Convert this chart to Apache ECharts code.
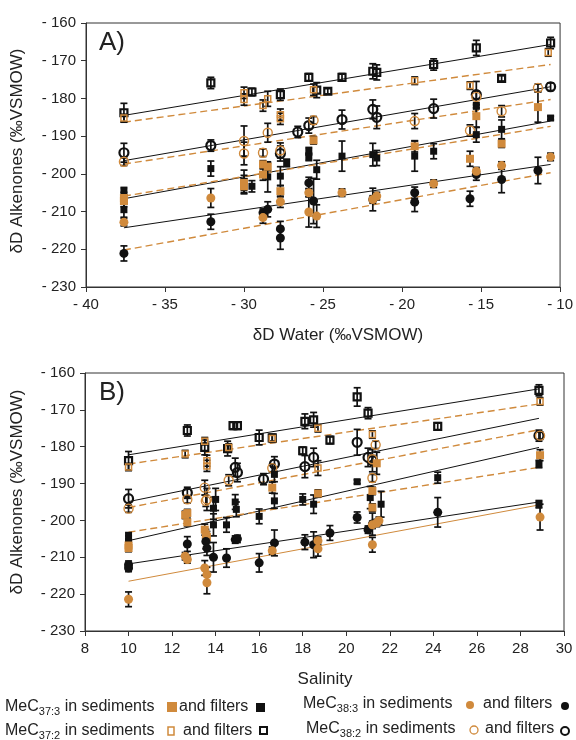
<!DOCTYPE html>
<html><head><meta charset="utf-8">
<script src="https://cdn.jsdelivr.net/npm/echarts@6/dist/echarts.min.js"></script>
<style>html,body{margin:0;padding:0;background:#fff}#c{width:576px;height:740px}</style>
</head><body><div id="c"></div>
<script>
const ORANGE = '#d08a3c';
const BLACK = '#111111';
const FONT = 'Liberation Sans, Arial, sans-serif';

// ---- Panel A : x = δD water (‰VSMOW), y = δD alkenones, e = error (±) ----
const A_X = {min: -40, max: -10, interval: 5};
const A_Y = {min: -230, max: -160, interval: 10};

const A_c37_2_filters = [[-37.6,-183.8,2.5],[-32.1,-175.9,1.5],[-29.5,-178.3,1],[-27.7,-179.0,1.5],[-25.9,-174.4,1],[-25.4,-177.8,2],[-24.7,-178.1,0.7],[-23.8,-174.4,1],[-21.85,-172.8,2],[-21.6,-173.1,2],[-18.0,-171.0,1.5],[-15.3,-166.6,2],[-13.7,-174.7,0.7],[-10.6,-165.3,1.5]];
const A_c37_2_sed = [[-37.6,-185.2,1],[-30.0,-178.5,1.5],[-30.0,-180.3,1.5],[-28.8,-181.9,1.5],[-28.5,-180.1,2],[-27.7,-184.3,1.5],[-27.7,-185.4,1.5],[-25.6,-177.7,1.5],[-19.2,-175.3,1],[-15.7,-176.6,1],[-10.75,-167.8,1]];
const A_c38_2_filters = [[-37.6,-194.4,2.5],[-32.1,-192.5,1.5],[-27.7,-194.6,2],[-26.6,-188.9,1.5],[-25.9,-187.2,2],[-23.8,-185.6,2.5],[-21.85,-182.9,2.5],[-21.6,-185.0,3],[-18.0,-182.7,2.5],[-15.3,-179.0,3.5],[-10.6,-176.9,1]];
const A_c38_2_sed = [[-37.6,-196.8,1],[-30.0,-191.3,4],[-30.0,-194.6,3],[-28.8,-194.4,1],[-28.5,-189.1,2.5],[-27.7,-193.8,2],[-25.6,-185.8,1],[-19.2,-186.0,2],[-15.7,-188.5,1.5],[-15.3,-179.6,1.5],[-13.7,-183.4,1.5],[-11.4,-177.2,1]];
const A_c37_3_filters = [[-37.6,-204.6,1],[-37.6,-209.5,2],[-32.1,-198.6,2],[-30.0,-202.0,3],[-29.5,-203.3,1.5],[-28.5,-200.8,4],[-27.7,-200.6,2.5],[-27.3,-197.1,1],[-25.9,-194.0,1],[-25.9,-195.5,1],[-25.4,-198.9,2.5],[-23.8,-195.3,4],[-21.85,-194.9,3],[-21.6,-195.8,2],[-19.2,-195.3,4],[-18.0,-194.0,2],[-15.3,-182.1,2],[-15.3,-189.6,2],[-13.7,-188.2,2.5],[-10.6,-185.2,0.5]];
const A_c37_3_sed = [[-37.6,-206.4,1.5],[-37.6,-207.2,1.5],[-30.0,-202.4,2],[-30.0,-203.3,2],[-28.8,-197.5,1],[-28.8,-200.2,1.5],[-28.5,-198.1,1],[-27.7,-204.6,1.5],[-25.6,-191.1,1],[-19.2,-192.7,1.5],[-15.7,-196.0,2],[-15.3,-184.7,3],[-13.7,-192.0,1],[-11.4,-182.3,4]];
const A_c38_3_filters = [[-37.6,-221.1,2],[-32.1,-212.7,2],[-28.8,-210.3,1],[-28.5,-209.4,2],[-27.7,-214.6,2],[-27.7,-217.0,3],[-25.9,-202.4,1.5],[-25.6,-207.2,6],[-21.85,-206.8,3],[-19.2,-205.0,1.5],[-19.2,-207.5,2.5],[-15.7,-206.6,2],[-15.3,-200.2,1.5],[-13.7,-201.5,3.5],[-11.4,-199.1,3.5]];
const A_c38_3_sed = [[-37.6,-212.8,1],[-32.1,-206.4,2.5],[-28.8,-211.6,1.5],[-27.7,-207.4,1.5],[-25.9,-205.0,1],[-25.9,-210.1,4],[-25.4,-211.2,3],[-23.8,-205.0,1],[-21.85,-206.8,1],[-21.6,-205.9,1],[-18.0,-202.6,1],[-15.3,-199.3,1],[-13.7,-197.8,1],[-10.6,-195.5,1]];

// regression lines [x1, y1, x2, y2]
const A_fit_c37_2_filters = [-37.6,-184.5,-10.6,-165.7];
const A_fit_c37_2_sed = [-37.6,-186.3,-10.6,-171.0];
const A_fit_c38_2_filters = [-37.6,-196.5,-10.6,-176.9];
const A_fit_c38_2_sed = [-37.6,-197.4,-10.6,-180.3];
const A_fit_c37_3_filters = [-37.6,-206.6,-10.6,-186.0];
const A_fit_c37_3_sed = [-37.6,-205.9,-10.6,-187.4];
const A_fit_c38_3_filters = [-37.6,-214.3,-10.6,-197.5];
const A_fit_c38_3_sed = [-37.6,-220.2,-10.6,-199.7];

// ---- Panel B : x = salinity ----
const B_X = {min: 8, max: 30, interval: 2};
const B_Y = {min: -230, max: -160, interval: 10};

const B_c37_2_filters = [[10.0,-183.8,2.5],[12.7,-175.6,1.5],[13.5,-180.2,2],[14.55,-180.5,2],[14.8,-174.3,1],[15.0,-174.3,1],[16.0,-177.5,2],[16.6,-177.6,1],[18.0,-181.1,1],[18.1,-173.1,2],[18.5,-172.7,2],[19.25,-178.2,1],[20.5,-166.5,2.5],[21.0,-170.9,1.5],[24.2,-174.5,1],[28.85,-164.7,1.5]];
const B_c37_2_sed = [[10.0,-185.5,1],[12.6,-182.0,1],[13.5,-178.5,1],[13.6,-183.8,1.5],[13.6,-185.2,1.5],[14.6,-180.2,1],[16.6,-177.8,1],[18.7,-175.0,1],[18.7,-185.8,2],[21.2,-176.7,1],[28.9,-167.7,1]];
const B_c38_2_filters = [[10.0,-194.1,2.5],[12.7,-192.5,1.5],[14.9,-185.6,2.5],[15.0,-187.0,2.5],[16.2,-188.8,1.5],[16.7,-184.7,2],[18.1,-185.4,3],[18.5,-182.9,2.5],[20.5,-178.8,3.5],[21.0,-182.9,2.5],[21.2,-183.8,3],[28.85,-177.0,1.5]];
const B_c38_2_sed = [[10.0,-196.8,1],[12.7,-194.3,1],[13.5,-191.1,2],[13.6,-194.3,3],[13.55,-194.7,1.5],[14.6,-189.1,1.5],[16.6,-185.8,1],[21.2,-183.4,1],[21.2,-188.5,1],[21.35,-179.5,1],[28.9,-177.0,1]];
const B_c37_3_filters = [[10.0,-204.3,1],[10.0,-205.7,1.5],[14.0,-194.3,3],[13.9,-196.7,3],[13.9,-201.2,3],[14.5,-201.2,2],[14.9,-195.0,2],[14.95,-197.0,2],[16.0,-198.9,2],[16.7,-187.5,2],[16.7,-194.7,2],[18.0,-194.3,1.5],[18.5,-195.6,2.5],[20.5,-189.5,0.5],[21.1,-193.8,3],[21.6,-195.6,3.5],[24.2,-188.4,1.5],[28.85,-184.7,1],[28.85,-195.6,1]];
const B_c37_3_sed = [[10.0,-206.8,1],[10.0,-207.5,1],[12.6,-198.5,1],[12.7,-198.0,1],[12.7,-200.5,1],[13.5,-202.5,1.5],[13.55,-203.9,1.5],[13.6,-204.5,1.5],[16.6,-191.1,1.5],[18.7,-192.7,1],[21.2,-192.0,1],[21.2,-196.5,1],[21.4,-184.5,3],[28.9,-182.3,1.5]];
const B_c38_3_filters = [[10.0,-212.0,1],[10.0,-212.9,1],[12.7,-206.4,2],[13.55,-205.7,2],[13.6,-207.5,2],[13.9,-210.0,4],[14.5,-210.2,2.5],[14.9,-205.2,1],[15.0,-205.0,1],[16.0,-211.5,2.5],[16.7,-206.1,3.5],[18.1,-205.9,2],[18.5,-206.6,3.5],[19.25,-203.4,2],[20.5,-199.2,1.5],[21.0,-202.5,1],[21.2,-201.0,3],[24.2,-197.8,4]];
const B_c38_3_sed = [[10.0,-221.4,2],[12.6,-209.7,1],[12.7,-210.6,1],[13.5,-212.9,2],[13.6,-214.7,2],[13.6,-216.9,3],[16.6,-208.2,1],[18.7,-205.5,1],[18.7,-207.7,2],[21.2,-206.6,2],[21.2,-201.2,1],[21.4,-200.7,1],[21.5,-200.1,1],[28.9,-199.1,3.5]];

const B_fit_c37_2_filters = [10.0,-182.2,28.85,-164.3];
const B_fit_c37_2_sed = [10.0,-184.7,28.85,-168.4];
const B_fit_c38_2_filters = [10.0,-194.9,28.85,-172.3];
const B_fit_c38_2_sed = [10.0,-196.5,28.85,-175.4];
const B_fit_c37_3_filters = [10.0,-205.5,28.85,-180.2];
const B_fit_c37_3_sed = [10.0,-203.2,28.85,-185.6];
const B_fit_c38_3_filters = [10.0,-211.8,28.85,-195.0];
const B_fit_c38_3_sed = [10.0,-216.5,28.85,-195.8];

// ---------------------------------------------------------------
const fmt = v => v < 0 ? '- ' + Math.abs(v) : String(v);

function errSeries(data, gi) {
  return {
    type: 'custom', xAxisIndex: gi, yAxisIndex: gi, data: data, z: 2, silent: true,
    animation: false, encode: {x: 0, y: 1},
    renderItem: function (params, api) {
      const x = api.value(0), y = api.value(1), e = api.value(2);
      const t = api.coord([x, y + e]), b = api.coord([x, y - e]);
      const w = 3.5;
      const st = {stroke: BLACK, lineWidth: 1.7};
      return {type: 'group', children: [
        {type: 'line', shape: {x1: t[0], y1: t[1], x2: b[0], y2: b[1]}, style: st},
        {type: 'line', shape: {x1: t[0] - w, y1: t[1], x2: t[0] + w, y2: t[1]}, style: st},
        {type: 'line', shape: {x1: b[0] - w, y1: b[1], x2: b[0] + w, y2: b[1]}, style: st}
      ]};
    }
  };
}
function sc(data, gi, symbol, size, fill, stroke, bw, z) {
  return {type: 'scatter', xAxisIndex: gi, yAxisIndex: gi, data: data.map(d => [d[0], d[1]]),
    symbol: symbol, symbolSize: size, z: z, silent: true, animation: false,
    itemStyle: {color: fill, borderColor: stroke, borderWidth: bw, opacity: 1}};
}
function ln(seg, gi, color, dashed) {
  return {type: 'line', xAxisIndex: gi, yAxisIndex: gi, data: [[seg[0], seg[1]], [seg[2], seg[3]]],
    symbol: 'none', silent: true, animation: false, z: 1,
    lineStyle: {color: color, width: dashed ? 1.4 : 1, type: dashed ? [7, 4] : 'solid'}};
}
const NONE = 'rgba(0,0,0,0)';
function panelSeries(gi, s, fits, lastSedDashed) {
  const out = [];
  out.push(ln(fits[0], gi, BLACK, false));
  out.push(ln(fits[1], gi, ORANGE, true));
  out.push(ln(fits[2], gi, BLACK, false));
  out.push(ln(fits[3], gi, ORANGE, true));
  out.push(ln(fits[4], gi, BLACK, false));
  out.push(ln(fits[5], gi, ORANGE, true));
  out.push(ln(fits[6], gi, BLACK, false));
  out.push(ln(fits[7], gi, ORANGE, lastSedDashed));
  out.push(errSeries([].concat(s[0], s[1], s[2], s[3], s[4], s[5], s[6], s[7]), gi));
  out.push(sc(s[0], gi, 'rect', 7, NONE, BLACK, 2.2, 3));       // 37:2 filters
  out.push(sc(s[1], gi, 'rect', 6, NONE, ORANGE, 1.5, 3));      // 37:2 sediments
  out.push(sc(s[2], gi, 'circle', 9, NONE, BLACK, 2.2, 3));     // 38:2 filters
  out.push(sc(s[3], gi, 'circle', 9, NONE, ORANGE, 1.4, 3));    // 38:2 sediments
  out.push(sc(s[4], gi, 'rect', 7, BLACK, BLACK, 0, 4));        // 37:3 filters
  out.push(sc(s[5], gi, 'rect', 8, ORANGE, ORANGE, 0, 4));      // 37:3 sediments
  out.push(sc(s[6], gi, 'circle', 9, BLACK, BLACK, 0, 4));      // 38:3 filters
  out.push(sc(s[7], gi, 'circle', 9, ORANGE, ORANGE, 0, 4));    // 38:3 sediments
  return out;
}

const series = [].concat(
  panelSeries(0,
    [A_c37_2_filters, A_c37_2_sed, A_c38_2_filters, A_c38_2_sed, A_c37_3_filters, A_c37_3_sed, A_c38_3_filters, A_c38_3_sed],
    [A_fit_c37_2_filters, A_fit_c37_2_sed, A_fit_c38_2_filters, A_fit_c38_2_sed, A_fit_c37_3_filters, A_fit_c37_3_sed, A_fit_c38_3_filters, A_fit_c38_3_sed], true),
  panelSeries(1,
    [B_c37_2_filters, B_c37_2_sed, B_c38_2_filters, B_c38_2_sed, B_c37_3_filters, B_c37_3_sed, B_c38_3_filters, B_c38_3_sed],
    [B_fit_c37_2_filters, B_fit_c37_2_sed, B_fit_c38_2_filters, B_fit_c38_2_sed, B_fit_c37_3_filters, B_fit_c37_3_sed, B_fit_c38_3_filters, B_fit_c38_3_sed], false)
);

function xAx(gi, r) {
  return {gridIndex: gi, type: 'value', min: r.min, max: r.max, interval: r.interval,
    axisLine: {onZero: false, lineStyle: {color: '#333', width: 1}},
    axisTick: {length: 5, lineStyle: {color: '#333'}},
    axisLabel: {fontSize: 15, color: '#222', margin: 10, fontFamily: FONT, formatter: fmt, showMinLabel: true, showMaxLabel: true},
    splitLine: {show: false}};
}
function yAx(gi, r) {
  return {gridIndex: gi, type: 'value', min: r.min, max: r.max, interval: r.interval,
    axisLine: {onZero: false, lineStyle: {color: '#333', width: 1}},
    axisTick: {length: 5, lineStyle: {color: '#333'}},
    axisLabel: {fontSize: 15, color: '#222', margin: 10, fontFamily: FONT, formatter: fmt, showMinLabel: true, showMaxLabel: true},
    splitLine: {show: false}};
}

const txt = (x, y, text, size, extra) => Object.assign({type: 'text', x: x, y: y,
  style: {text: text, font: size + 'px ' + FONT, fill: '#222', textAlign: 'left', textVerticalAlign: 'middle'}}, extra || {});

const subRich = {s: {fontSize: 11, fontFamily: FONT, fill: '#222', padding: [9, 0, 0, 0]}};
function richTxt(x, y, text) {
  return {type: 'text', x: x, y: y, style: {text: text, fontSize: 16, fontFamily: FONT, fill: '#222',
    textAlign: 'left', textVerticalAlign: 'middle', rich: subRich}};
}

const graphic = [
  txt(99, 43, 'A)', 26),
  txt(99, 393, 'B)', 26),
  {type: 'text', x: 17.5, y: 151, rotation: Math.PI / 2,
    style: {text: 'δD Alkenones (‰VSMOW)', font: '17px ' + FONT, fill: '#222', textAlign: 'center', textVerticalAlign: 'middle'}},
  {type: 'text', x: 17.5, y: 492, rotation: Math.PI / 2,
    style: {text: 'δD Alkenones (‰VSMOW)', font: '17px ' + FONT, fill: '#222', textAlign: 'center', textVerticalAlign: 'middle'}},
  {type: 'text', x: 338, y: 335, style: {text: 'δD Water (‰VSMOW)', font: '17px ' + FONT, fill: '#222', textAlign: 'center', textVerticalAlign: 'middle'}},
  {type: 'text', x: 325, y: 679, style: {text: 'Salinity', font: '17px ' + FONT, fill: '#222', textAlign: 'center', textVerticalAlign: 'middle'}},
  // legend
  richTxt(5, 707, 'MeC{s|37:3} in sediments'),
  {type: 'rect', shape: {x: 167, y: 702, width: 10, height: 10}, style: {fill: ORANGE}},
  txt(179, 707, 'and filters', 16),
  {type: 'rect', shape: {x: 256, y: 703, width: 9, height: 9}, style: {fill: BLACK}},
  richTxt(5, 731, 'MeC{s|37:2} in sediments'),
  {type: 'rect', shape: {x: 168, y: 727, width: 6, height: 8}, style: {fill: NONE, stroke: ORANGE, lineWidth: 1.5}},
  txt(183, 731, 'and filters', 16),
  {type: 'rect', shape: {x: 260, y: 727, width: 7, height: 7}, style: {fill: NONE, stroke: BLACK, lineWidth: 2}},
  richTxt(303, 704, 'MeC{s|38:3} in sediments'),
  {type: 'circle', shape: {cx: 470, cy: 705, r: 4}, style: {fill: ORANGE}},
  txt(483, 704, 'and filters', 16),
  {type: 'circle', shape: {cx: 565, cy: 706, r: 4}, style: {fill: BLACK}},
  richTxt(306, 729, 'MeC{s|38:2} in sediments'),
  {type: 'circle', shape: {cx: 474, cy: 730, r: 4}, style: {fill: NONE, stroke: ORANGE, lineWidth: 1.3}},
  txt(485, 729, 'and filters', 16),
  {type: 'circle', shape: {cx: 565, cy: 731, r: 4}, style: {fill: NONE, stroke: BLACK, lineWidth: 2}}
];

const chart = echarts.init(document.getElementById('c'), null, {renderer: 'canvas'});
chart.setOption({
  backgroundColor: '#fff',
  animation: false,
  textStyle: {fontFamily: FONT},
  grid: [
    {left: 86, right: 12, top: 23, height: 264, show: true, borderColor: '#333', borderWidth: 1, backgroundColor: NONE},
    {left: 85, right: 12, top: 373, height: 258, show: true, borderColor: '#333', borderWidth: 1, backgroundColor: NONE}
  ],
  xAxis: [xAx(0, A_X), xAx(1, B_X)],
  yAxis: [yAx(0, A_Y), yAx(1, B_Y)],
  series: series,
  graphic: graphic
});
</script></body></html>
